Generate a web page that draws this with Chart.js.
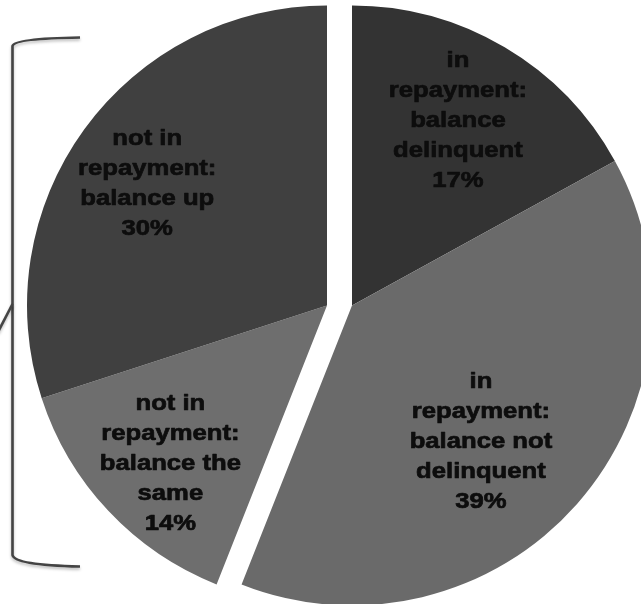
<!DOCTYPE html>
<html>
<head>
<meta charset="utf-8">
<script src="https://cdn.jsdelivr.net/npm/chart.js@4/dist/chart.umd.min.js"></script>
<style>
  html, body { margin: 0; padding: 0; background: #fff; overflow: hidden; }
  #wrap { position: relative; width: 641px; height: 604px; }
</style>
</head>
<body>
<div id="wrap"><canvas id="chart"></canvas></div>
<script>
// Student loan borrowers by repayment status (share of borrowers, %)
const categoryLines = [
  ['in', 'repayment:', 'balance', 'delinquent'],
  ['in', 'repayment:', 'balance not', 'delinquent'],
  ['not in', 'repayment:', 'balance the', 'same'],
  ['not in', 'repayment:', 'balance up']
];
const shares = [17, 39, 14, 30];
const sliceColors = ['#333333', '#6a6a6a', '#6e6e6e', '#404040'];

// label anchor: fraction of radius and angular nudge (degrees) from the slice mid-angle
const labelRadius = [0.715, 0.622, 0.737, 0.727];
const labelNudge = [-1, 4.9, -1.7, -1.5];

const GROUP_GAP = 25;     // horizontal gap between "in repayment" and "not in repayment" halves
const LINE_H = 30;
const CAP_H = 16;
const TEXT_STRETCH = 1.14;

// Pull the right-hand and left-hand groups of slices apart horizontally
const splitGroups = {
  id: 'splitGroups',
  beforeDatasetsDraw(chart) {
    const area = chart.chartArea;
    const cx = (area.left + area.right) / 2;
    chart.getDatasetMeta(0).data.forEach(arc => {
      const mid = (arc.startAngle + arc.endAngle) / 2;
      arc.x = cx + (Math.cos(mid) >= 0 ? GROUP_GAP / 2 : -GROUP_GAP / 2);
    });
  }
};

// Multi-line category labels with the percentage underneath
const sliceLabels = {
  id: 'sliceLabels',
  afterDatasetsDraw(chart) {
    const ctx = chart.ctx;
    const meta = chart.getDatasetMeta(0);
    ctx.save();
    ctx.fillStyle = '#0d0d0d';
    ctx.strokeStyle = '#0d0d0d';
    ctx.lineWidth = 0.7;
    ctx.lineJoin = 'round';
    ctx.font = 'bold 22.5px "Liberation Sans", Arial, sans-serif';
    ctx.textAlign = 'center';
    ctx.textBaseline = 'alphabetic';
    meta.data.forEach((arc, i) => {
      const mid = (arc.startAngle + arc.endAngle) / 2 + labelNudge[i] * Math.PI / 180;
      const r = arc.outerRadius * labelRadius[i];
      const x = arc.x + Math.cos(mid) * r;
      const y = arc.y + Math.sin(mid) * r;
      const lines = categoryLines[i].concat([shares[i] + '%']);
      const blockH = (lines.length - 1) * LINE_H + CAP_H;
      let base = y - blockH / 2 + CAP_H;
      lines.forEach(line => {
        ctx.save();
        ctx.translate(x, base);
        ctx.scale(TEXT_STRETCH, 1);
        ctx.fillText(line, 0, 0);
        ctx.strokeText(line, 0, 0);
        ctx.restore();
        base += LINE_H;
      });
    });
    ctx.restore();
  }
};

// Bracket grouping the "not in repayment" slices
const groupBracket = {
  id: 'groupBracket',
  afterDraw(chart) {
    const ctx = chart.ctx;
    ctx.save();
    ctx.strokeStyle = '#444444';
    ctx.lineWidth = 2.6;
    ctx.lineCap = 'butt';
    ctx.shadowColor = 'rgba(0,0,0,0.28)';
    ctx.shadowBlur = 3;
    ctx.shadowOffsetY = 2;
    ctx.beginPath();
    ctx.moveTo(80, 37.5);
    ctx.quadraticCurveTo(14, 38.5, 12.5, 46);
    ctx.lineTo(12.5, 555);
    ctx.quadraticCurveTo(14, 565, 80, 566.5);
    ctx.stroke();
    ctx.beginPath();
    ctx.moveTo(12.5, 304);
    ctx.lineTo(-2, 332);
    ctx.stroke();
    ctx.restore();
  }
};

new Chart(document.getElementById('chart'), {
  type: 'pie',
  data: {
    labels: categoryLines.map(l => l.join(' ')),
    datasets: [{
      data: shares,
      backgroundColor: sliceColors,
      borderWidth: 0,
      hoverOffset: 0,
      clip: false
    }]
  },
  options: {
    responsive: true,
    maintainAspectRatio: false,
    animation: false,
    events: [],
    radius: 300,
    layout: { padding: { top: 7, bottom: 0, left: 39, right: 1 } },
    plugins: {
      legend: { display: false },
      tooltip: { enabled: false }
    }
  },
  plugins: [splitGroups, sliceLabels, groupBracket]
});
</script>
</body>
</html>
